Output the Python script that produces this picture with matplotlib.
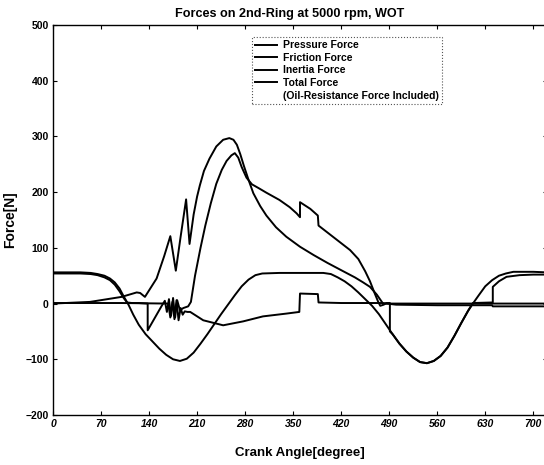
import numpy as np
import matplotlib
matplotlib.use("Agg")
from matplotlib import pyplot as plt
from matplotlib.lines import Line2D

plt.rcParams['font.family'] = ['Liberation Sans', 'DejaVu Sans']

# crank angle [deg] / force [N]
pressure_deg = [0, 54, 100, 122, 127, 134, 151, 162, 171, 179, 186, 194, 199, 205, 210, 214,
                220, 228, 238, 248, 257, 263, 268, 273, 278, 285, 292, 302, 311, 325, 340,
                360, 380, 400, 423, 440, 452, 462, 472, 481, 500, 560, 620, 680, 720]
pressure_F   = [0, 3, 12, 20, 19, 12, 45, 85, 121, 59, 120, 187, 107, 160, 192, 212,
                238, 260, 282, 294, 297, 294, 285, 268, 248, 222, 198, 175, 158, 137, 120,
                102, 87, 73, 58, 47, 38, 30, 16, 0, 0, 0, 0, 0, 0]

friction_deg = [0, 100, 168, 171, 174, 177, 180, 183, 186, 189, 192, 196, 200, 219, 248, 277,
                306, 340, 359, 360, 386, 387, 420, 480, 500, 560, 640, 641, 720]
friction_F   = [1, 1, 0, -25, 3, -28, 6, -30, -8, -20, -14, -15, -15, -30, -39, -32,
                -23, -18, -15, 18, 17, 2, 1, 1, -2, -3, -3, -5, -5]

inertia_deg = [0, 20, 40, 55, 65, 75, 83, 90, 97, 103, 110, 117, 125, 135, 145, 155, 165,
               175, 185, 195, 205, 215, 225, 235, 245, 255, 265, 275, 285, 295, 305, 330,
               360, 394, 405, 415, 425, 435, 445, 455, 465, 475, 485, 495, 505, 515, 525,
               535, 545, 555, 565, 575, 585, 595, 605, 612, 620, 630, 640, 650, 660, 671,
               700, 720]
inertia_F   = [56, 56, 56, 55, 53, 50, 45, 38, 27, 13, -2, -20, -38, -55, -68, -81, -92,
               -100, -103, -99, -88, -72, -55, -37, -19, -2, 15, 31, 43, 51, 54, 55,
               55, 55, 53, 47, 40, 31, 20, 8, -4, -19, -37, -55, -72, -86, -97,
               -105, -107, -103, -94, -79, -58, -35, -13, 0, 14, 31, 42, 50, 54, 57,
               57, 56]

total_deg = [0, 40, 55, 65, 75, 83, 90, 97, 103, 108, 115, 125, 138, 138, 158, 163, 166,
             169, 172, 175, 178, 181, 185, 190, 197, 201, 207, 215, 222, 230, 238, 246, 253,
             260, 265, 270, 275, 282, 290, 300, 311, 330, 345, 355, 360, 360, 375, 386, 387,
             410, 433, 445, 455, 462, 469, 474, 477, 482, 486, 491, 491, 495, 505, 515, 525,
             535, 545, 555, 565, 575, 585, 595, 605, 612, 641, 641, 650, 661, 680, 700, 720]
total_F   = [54, 54, 53, 51, 47, 42, 34, 22, 10, 2, 1, 1, 0, -48, -5, 5, -15,
             8, -22, 10, -25, 6, -12, -8, -5, 3, 50, 100, 140, 180, 215, 240, 256,
             266, 270, 262, 245, 226, 214, 207, 199, 186, 173, 162, 155, 182, 170, 158, 140,
             118, 96, 80, 58, 40, 18, 3, -4, -2, 1, 1, -50, -55, -72, -86, -97,
             -105, -107, -103, -94, -79, -58, -35, -13, 1, 2, 30, 40, 48, 51, 52, 52]

xticks = np.arange(0, 701, 70)
yticks = np.arange(-200, 501, 100)

fig = plt.figure(figsize=(5.44, 4.65), dpi=100)
ax = fig.add_axes([53/544, 1 - 415/465, 494/544, 390/465])

for d, f in [(pressure_deg, pressure_F), (friction_deg, friction_F),
             (inertia_deg, inertia_F), (total_deg, total_F)]:
    ax.plot(d, f, color='black', lw=1.4, solid_joinstyle='round')

ax.set_xlim(0, 720)
ax.set_ylim(-200, 500)
ax.set_xticks(xticks)
ax.set_yticks(yticks)
ax.tick_params(direction='in', top=True, right=True, length=3, width=0.8, pad=3)
for lab in ax.get_xticklabels():
    lab.set_fontweight('bold'); lab.set_fontstyle('italic'); lab.set_fontsize(7.5)
for lab in ax.get_yticklabels():
    lab.set_fontweight('bold'); lab.set_fontsize(7.5)
for sp in ax.spines.values():
    sp.set_linewidth(1.0)

ax.set_title('Forces on 2nd-Ring at 5000 rpm, WOT', fontsize=9.1, fontweight='bold',
             pad=6, x=0.478)
ax.set_xlabel('Crank Angle[degree]', fontsize=9.5, fontweight='bold', labelpad=13)
ax.set_ylabel('Force[N]', fontsize=10, fontweight='bold', labelpad=6)

handles = [Line2D([], [], color='black', lw=1.4) for _ in range(4)]
handles.append(Line2D([], [], color='none'))
labels = ['Pressure Force', 'Friction Force', 'Inertia Force', 'Total Force',
          '(Oil-Resistance Force Included)']
leg = ax.legend(handles, labels, loc='upper left', bbox_to_anchor=(0.403, 0.969),
                prop={'weight': 'bold', 'size': 7.5}, handlelength=2.1, handletextpad=0.55,
                labelspacing=0.25, borderpad=0.3, fancybox=False, framealpha=1,
                borderaxespad=0)
leg.get_frame().set_edgecolor('#555555')
leg.get_frame().set_linestyle(':')
leg.get_frame().set_linewidth(0.8)

fig.savefig('out.png', dpi=100)
